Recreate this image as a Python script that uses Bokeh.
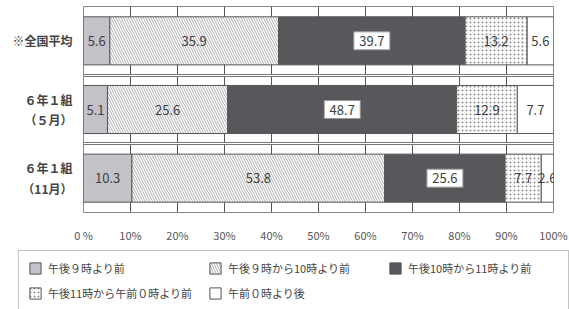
from bokeh.plotting import figure
from bokeh.layouts import column
from bokeh.models import (ColumnDataSource, FixedTicker, Range1d, Legend, LegendItem, Grid)
from bokeh.core.properties import value
from bokeh.embed import file_html
from bokeh.resources import INLINE

groups = ["※全国平均", "６年１組\n（５月）", "６年１組\n（11月）"]
series = ["午後９時より前", "午後９時から10時より前", "午後10時から11時より前",
          "午後11時から午前０時より前", "午前０時より後"]
s1 = [5.6, 5.1, 10.3]
s2 = [35.9, 25.6, 53.8]
s3 = [39.7, 48.7, 25.6]
s4 = [13.2, 12.9, 7.7]
s5 = [5.6, 7.7, 2.6]
x_ticks = [0, 10, 20, 30, 40, 50, 60, 70, 80, 90, 100]
x_tick_labels = ["0 %", "10%", "20%", "30%", "40%", "50%", "60%", "70%", "80%", "90%", "100%"]

values = [s1, s2, s3, s4, s5]
DARK = "#58585c"
styles = [
    dict(fill_color="#c2c2c8"),
    dict(fill_color="white", hatch_pattern="\\", hatch_color="#9a9a9a", hatch_scale=5, hatch_weight=0.8),
    dict(fill_color=DARK),
    dict(fill_color="white", hatch_pattern="dot", hatch_color="#8c8c8c", hatch_scale=4, hatch_weight=0.7),
    dict(fill_color="white"),
]

FONT = "Noto Sans CJK JP"
n = len(groups)
ys = [i + 0.5 for i in range(n)]

p = figure(width=569, height=245, output_backend="svg", toolbar_location=None,
           x_range=Range1d(0, 100), y_range=Range1d(n, 0))
p.frame_align = False
p.min_border_left = 83
p.min_border_right = 16
p.min_border_top = 6
p.min_border_bottom = 32
p.outline_line_color = "#888888"
p.background_fill_color = "white"
p.border_fill_color = "white"

# grid: vertical lines at 10%, double horizontal lines between rows
p.xgrid.ticker = FixedTicker(ticks=x_ticks)
p.xgrid.grid_line_color = "#555555"
p.xgrid.grid_line_width = 1
p.ygrid.ticker = FixedTicker(ticks=list(range(n + 1)))
p.ygrid.grid_line_color = "#777777"
p.ygrid.grid_line_width = 3
g2 = Grid(dimension=1, ticker=FixedTicker(ticks=list(range(n + 1))),
          grid_line_color="white", grid_line_width=1)
p.add_layout(g2)

sources = []
left = [0.0] * n
for name, vals, st in zip(series, values, styles):
    right = [l + v for l, v in zip(left, vals)]
    src = ColumnDataSource(dict(y=ys, left=left, right=right,
                                mid=[(l + r) / 2 for l, r in zip(left, right)],
                                txt=[f"{v:.1f}" for v in vals]))
    sources.append(src)
    p.hbar(y="y", left="left", right="right", height=0.70, source=src,
           line_color="#555555", line_width=1, **st)
    if st.get("fill_color") == DARK:
        p.rect(x="mid", y="y", width=36, height=18, width_units="screen",
               height_units="screen", source=src, fill_color="white",
               line_color="#999999", line_width=1)
    p.text(x="mid", y="y", text="txt", source=src, text_align="center",
           text_baseline="middle", text_font=value(FONT), text_font_size="13px",
           text_color="#404040")
    left = right

p.xaxis.ticker = FixedTicker(ticks=x_ticks)
p.xaxis.major_label_overrides = {t: l for t, l in zip(x_ticks, x_tick_labels)}
p.xaxis.axis_line_color = None
p.xaxis.major_tick_line_color = None
p.xaxis.minor_tick_line_color = None
p.xaxis.major_label_text_font = FONT
p.xaxis.major_label_text_font_size = "11px"
p.xaxis.major_label_text_color = "#555555"
p.xaxis.major_label_standoff = 8

p.yaxis.ticker = FixedTicker(ticks=ys)
p.yaxis.major_label_overrides = {y: g for y, g in zip(ys, groups)}
p.yaxis.axis_line_color = None
p.yaxis.major_tick_line_color = None
p.yaxis.minor_tick_line_color = None
p.yaxis.major_label_text_font = FONT
p.yaxis.major_label_text_font_size = "12px"
p.yaxis.major_label_text_font_style = "bold"
p.yaxis.major_label_text_color = "#444444"
p.yaxis.major_label_standoff = 5

# legend in its own strip below the chart
lf = figure(width=569, height=64, output_backend="svg", toolbar_location=None,
            x_range=Range1d(0, 100), y_range=Range1d(n, 0))
lf.frame_align = False
lf.min_border_left = lf.min_border_right = lf.min_border_top = lf.min_border_bottom = 0
lf.axis.visible = False
lf.grid.visible = False
lf.outline_line_color = None
items = []
for name, st, src in zip(series, styles, sources):
    r = lf.hbar(y="y", left="left", right="right", height=0.5, source=src,
                line_color="#555555", line_width=1, visible=False, **st)
    items.append(LegendItem(label=name, renderers=[r]))
legend = Legend(items=items, orientation="horizontal", ncols=3, location=(18, -2),
                label_text_font=FONT, label_text_font_size="11px", label_text_color="#444444",
                label_width=151, glyph_width=14, glyph_height=14, spacing=9,
                border_line_color="#888888", padding=9, margin=0, label_standoff=6,
                label_height=16, inactive_fill_alpha=0)
lf.add_layout(legend, "center")

layout = column(p, lf, spacing=0)
open("out.html", "w").write(file_html(layout, INLINE))
